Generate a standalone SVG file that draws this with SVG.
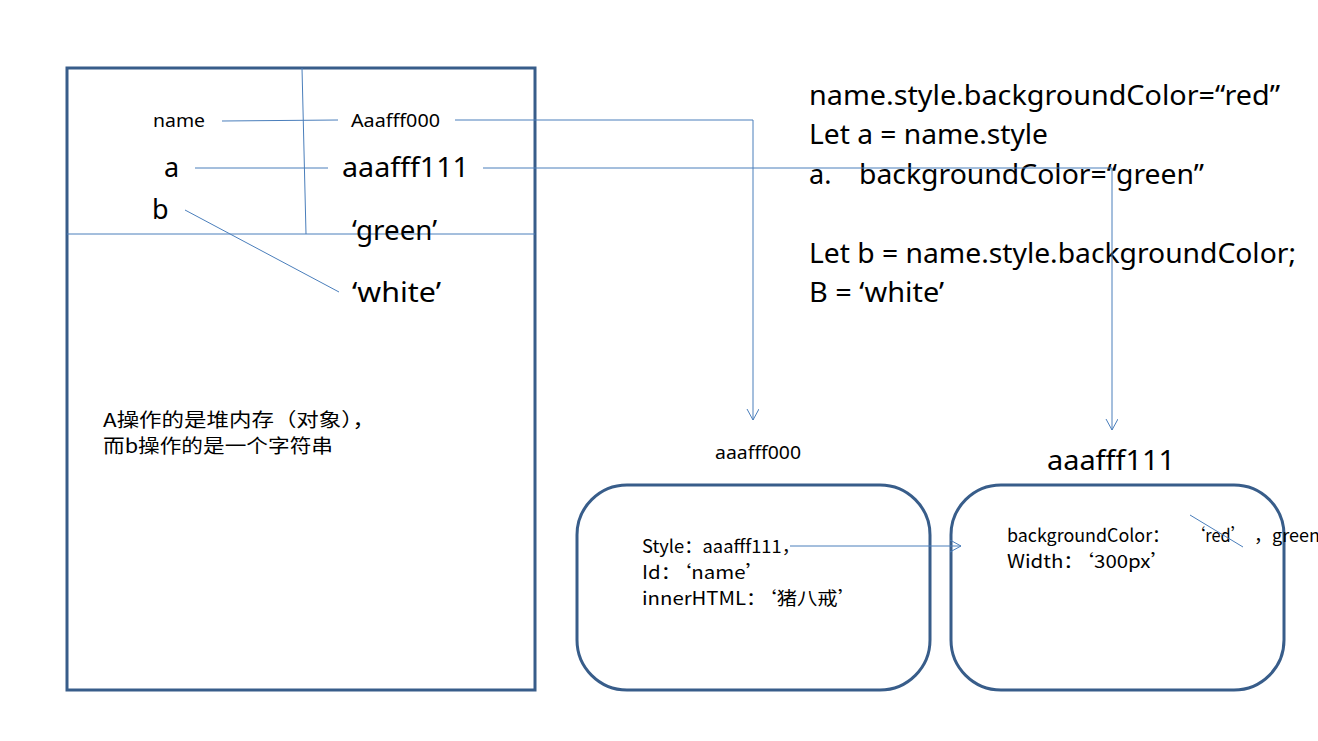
<svg xmlns="http://www.w3.org/2000/svg" width="1318" height="741" viewBox="0 0 1318 741">
<style>
.box{fill:none;stroke:#385D8A;stroke-width:3}
.ln{fill:none;stroke:#4A7EBB;stroke-width:1}
.t{font-family:"Noto Sans","Noto Sans CJK SC",sans-serif;fill:#000}
.cj{font-family:"Noto Sans CJK SC","Noto Sans",sans-serif;fill:#000}
</style>
<defs>
<marker id="arr" markerWidth="14" markerHeight="14" refX="11" refY="6" orient="auto" markerUnits="userSpaceOnUse">
<path d="M0,0 L11,6 L0,12" fill="none" stroke="#4A7EBB" stroke-width="1"/>
</marker>
</defs>
<rect width="1318" height="741" fill="#fff"/>

<g id="stack">
<rect class="box" x="67" y="68" width="468" height="622"/>
<line class="ln" x1="302" y1="68" x2="306" y2="234"/>
<line class="ln" x1="67" y1="234" x2="535" y2="234"/>
<text class="t" x="153" y="127" font-size="18" textLength="52" lengthAdjust="spacingAndGlyphs">name</text>
<text class="t" x="351" y="127" font-size="18" textLength="89" lengthAdjust="spacingAndGlyphs">Aaafff000</text>
<text class="t" x="164" y="177" font-size="27">a</text>
<text class="t" x="342" y="177" font-size="27" textLength="127" lengthAdjust="spacingAndGlyphs">aaafff111</text>
<text class="t" x="152" y="219" font-size="27">b</text>
<text class="t" x="352" y="240" font-size="27" textLength="85" lengthAdjust="spacingAndGlyphs">‘green’</text>
<text class="t" x="352" y="302" font-size="27" textLength="89" lengthAdjust="spacingAndGlyphs">‘white’</text>
<text class="cj" x="103" y="427" font-size="19" textLength="272" lengthAdjust="spacingAndGlyphs">A操作的是堆内存（对象），</text>
<text class="cj" x="103" y="453" font-size="19" textLength="230" lengthAdjust="spacingAndGlyphs">而b操作的是一个字符串</text>
</g>

<g id="code">
<text class="t" x="809" y="105" font-size="27" textLength="471" lengthAdjust="spacingAndGlyphs">name.style.backgroundColor=“red”</text>
<text class="t" x="809" y="144" font-size="27" textLength="239" lengthAdjust="spacingAndGlyphs">Let a = name.style</text>
<text class="t" x="809" y="184" font-size="27">a.</text>
<text class="t" x="859" y="184" font-size="27" textLength="345" lengthAdjust="spacingAndGlyphs">backgroundColor=“green”</text>
<text class="t" x="809" y="263" font-size="27" textLength="487" lengthAdjust="spacingAndGlyphs">Let b = name.style.backgroundColor;</text>
<text class="t" x="809" y="302" font-size="27" textLength="135" lengthAdjust="spacingAndGlyphs">B = ‘white’</text>
</g>

<g id="obj000">
<text class="t" x="715" y="459" font-size="18" textLength="86" lengthAdjust="spacingAndGlyphs">aaafff000</text>
<rect class="box" x="577" y="485" width="353" height="205" rx="50" ry="50"/>
<text class="cj" x="642" y="553" font-size="18" textLength="158" lengthAdjust="spacingAndGlyphs">Style：aaafff111，</text>
<text class="cj" x="642" y="579" font-size="18" textLength="124" lengthAdjust="spacingAndGlyphs">Id：‘name’</text>
<text class="cj" x="642" y="605" font-size="18" textLength="216" lengthAdjust="spacingAndGlyphs">innerHTML：‘猪八戒’</text>
</g>

<g id="obj111">
<text class="t" x="1047" y="470" font-size="27" textLength="128" lengthAdjust="spacingAndGlyphs">aaafff111</text>
<rect class="box" x="951" y="485" width="333" height="205" rx="50" ry="50"/>
<text class="cj" x="1007" y="542" font-size="18" textLength="163" lengthAdjust="spacingAndGlyphs">backgroundColor：</text>
<text class="cj" x="1189" y="542" font-size="18" textLength="58" lengthAdjust="spacingAndGlyphs">‘red’</text>
<text class="cj" x="1254" y="542" font-size="18">，green</text>
<text class="cj" x="1007" y="568" font-size="18" textLength="164" lengthAdjust="spacingAndGlyphs">Width：‘300px’</text>
<line class="ln" x1="1190" y1="515" x2="1243" y2="547"/>
</g>

<g id="connectors">
<line class="ln" x1="222" y1="121" x2="338" y2="120"/>
<line class="ln" x1="195" y1="168" x2="328" y2="168"/>
<line class="ln" x1="185" y1="210" x2="339" y2="292"/>
<polyline class="ln" points="455,120 753,120 753,420" marker-end="url(#arr)"/>
<polyline class="ln" points="483,168 1112,168 1112,430" marker-end="url(#arr)"/>
<line class="ln" x1="790" y1="546" x2="961" y2="546" marker-end="url(#arr)"/>
</g>
</svg>
